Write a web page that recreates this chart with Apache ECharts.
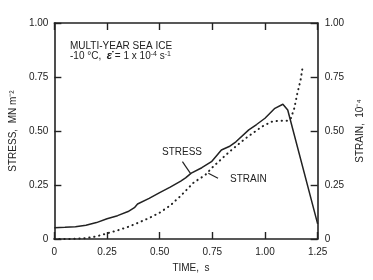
<!DOCTYPE html>
<html>
<head>
<meta charset="utf-8">
<script src="https://cdn.jsdelivr.net/npm/echarts@6/dist/echarts.min.js"></script>
<style>
  html, body { margin: 0; padding: 0; background: #fff; }
  #chart { width: 373px; height: 280px; }
</style>
</head>
<body>
<div id="chart"></div>
<script>
// stress curve (left axis, MN m^-2)
const stressTime = [0, 0.05, 0.1, 0.15, 0.2, 0.25, 0.3, 0.35, 0.38, 0.395, 0.45, 0.5, 0.55, 0.6, 0.623, 0.65, 0.7, 0.746, 0.793, 0.83, 0.862, 0.923, 0.96, 1.0, 1.047, 1.085, 1.108, 1.25]
const stressValues = [0.052, 0.054, 0.057, 0.064, 0.076, 0.094, 0.108, 0.127, 0.145, 0.162, 0.188, 0.215, 0.24, 0.268, 0.283, 0.305, 0.33, 0.358, 0.412, 0.428, 0.45, 0.505, 0.53, 0.559, 0.605, 0.624, 0.597, 0.07]
// strain curve (right axis, 10^-4)
const strainTime = [0, 0.05, 0.1, 0.15, 0.2, 0.25, 0.3, 0.35, 0.4, 0.45, 0.5, 0.55, 0.6, 0.662, 0.716, 0.754, 0.831, 0.908, 0.985, 1.031, 1.07, 1.108, 1.123, 1.139, 1.154, 1.169, 1.177]
const strainValues = [0, 0, 0.001, 0.004, 0.012, 0.026, 0.04, 0.056, 0.076, 0.097, 0.122, 0.155, 0.2, 0.262, 0.296, 0.335, 0.404, 0.466, 0.52, 0.543, 0.548, 0.548, 0.559, 0.605, 0.675, 0.736, 0.785]
// axis ticks
const timeTicks = [0, 0.25, 0.5, 0.75, 1.0, 1.25]
const valueTicks = [0, 0.25, 0.5, 0.75, 1.0]

const ink = '#222'
const font = 'Liberation Sans'
const fmt = v => (v === 0 ? '0' : v.toFixed(2))

const chart = echarts.init(document.getElementById('chart'))

const axisLine = () => ({ show: true, onZero: false, lineStyle: { color: ink, width: 1.6 } })
const axisTick = () => ({ show: true, inside: true, length: 7, lineStyle: { color: ink, width: 1.4 } })

const options = {
  backgroundColor: '#fff',
  animation: false,
  grid: { left: 50, right: 52, top: 23, bottom: 41 },
  xAxis: [
    {
      type: 'value',
      min: timeTicks[0],
      max: timeTicks[timeTicks.length - 1],
      interval: 0.25,
      name: 'TIME,  s',
      nameLocation: 'middle',
      nameGap: 24,
      nameTextStyle: { color: ink, fontFamily: font, fontSize: 10, padding: [0, 0, 0, 10] },
      axisLine: axisLine(),
      axisTick: axisTick(),
      axisLabel: { color: ink, fontFamily: font, fontSize: 10, margin: 8, formatter: fmt },
      splitLine: { show: false }
    },
    {
      type: 'value',
      position: 'top',
      min: timeTicks[0],
      max: timeTicks[timeTicks.length - 1],
      interval: 0.25,
      axisLine: axisLine(),
      axisTick: axisTick(),
      axisLabel: { show: false },
      splitLine: { show: false }
    }
  ],
  yAxis: [
    {
      type: 'value',
      position: 'left',
      min: valueTicks[0],
      max: valueTicks[valueTicks.length - 1],
      interval: 0.25,
      name: 'STRESS,  MN m⁻²',
      nameLocation: 'middle',
      nameGap: 36,
      nameTextStyle: { color: ink, fontFamily: font, fontSize: 10 },
      axisLine: axisLine(),
      axisTick: axisTick(),
      axisLabel: { color: ink, fontFamily: font, fontSize: 10, margin: 6, formatter: fmt },
      splitLine: { show: false }
    },
    {
      type: 'value',
      position: 'right',
      min: valueTicks[0],
      max: valueTicks[valueTicks.length - 1],
      interval: 0.25,
      name: 'STRAIN,  10⁻⁴',
      nameLocation: 'middle',
      nameGap: 37,
      nameTextStyle: { color: ink, fontFamily: font, fontSize: 10 },
      axisLine: axisLine(),
      axisTick: axisTick(),
      axisLabel: { color: ink, fontFamily: font, fontSize: 10, margin: 7, formatter: fmt },
      splitLine: { show: false }
    }
  ],
  series: [
    {
      name: 'STRESS',
      type: 'line',
      xAxisIndex: 0,
      yAxisIndex: 0,
      showSymbol: false,
      data: stressTime.map((t, i) => [t, stressValues[i]]),
      lineStyle: { color: ink, width: 1.5 },
      markLine: {
        silent: true,
        symbol: ['none', 'none'],
        label: { show: false },
        lineStyle: { color: ink, width: 1.2, type: 'solid' },
        data: [
          [{ coord: [0.608, 0.358] }, { coord: [0.646, 0.304] }],
          [{ coord: [0.731, 0.304] }, { coord: [0.777, 0.281] }]
        ]
      }
    },
    {
      name: 'STRAIN',
      type: 'line',
      xAxisIndex: 0,
      yAxisIndex: 1,
      showSymbol: false,
      data: strainTime.map((t, i) => [t, strainValues[i]]),
      lineStyle: { color: ink, width: 2, type: [0.3, 4.7], cap: 'round' }
    }
  ],
  graphic: [
    {
      type: 'text',
      left: 70,
      top: 41,
      style: {
        text: '{a|MULTI-YEAR SEA ICE}\n{a|-10 °C,  }{e|ε̇}{a| = 1 x 10}{s|-4}{a| s}{s|-1}',
        fill: ink,
        font: '10px "Liberation Sans"',
        rich: {
          a: { fontSize: 10, fontFamily: font, fill: ink, lineHeight: 10 },
          e: { fontSize: 11, fontFamily: font, fill: ink, fontStyle: 'italic', fontWeight: 'bold', lineHeight: 10 },
          s: { fontSize: 7, fontFamily: font, fill: ink, verticalAlign: 'top', lineHeight: 10, padding: [0, 0, 4, 0] }
        }
      }
    },
    {
      type: 'text',
      left: 162,
      top: 147,
      style: { text: 'STRESS', fill: ink, font: '10px "Liberation Sans"' }
    },
    {
      type: 'text',
      left: 230,
      top: 174,
      style: { text: 'STRAIN', fill: ink, font: '10px "Liberation Sans"' }
    }
  ]
}

chart.setOption(options)
</script>
</body>
</html>
